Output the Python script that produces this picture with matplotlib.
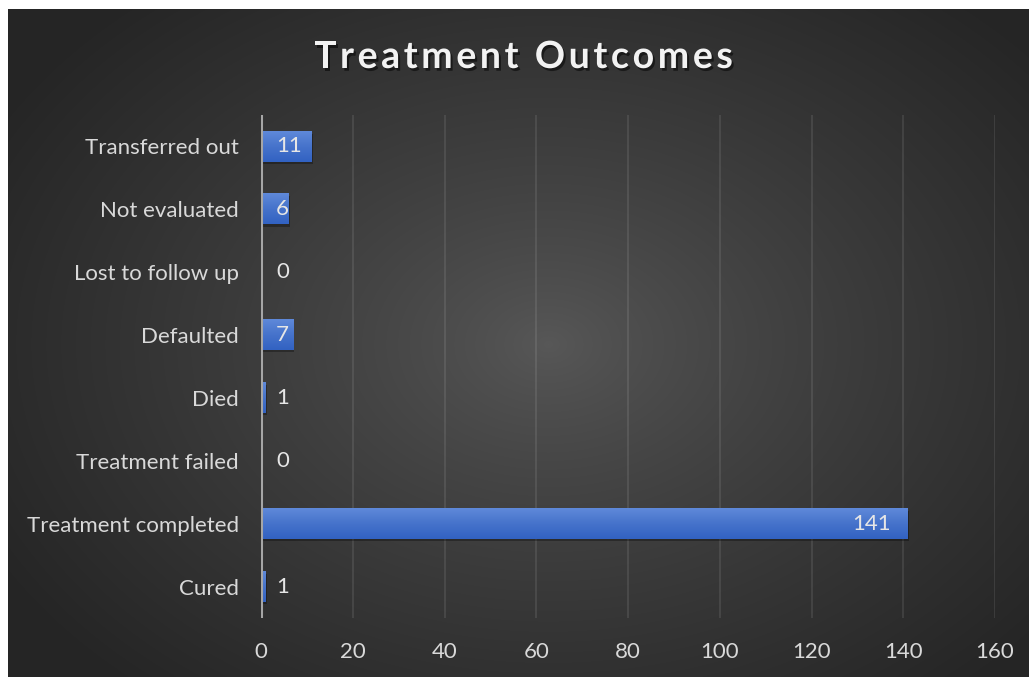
import numpy as np
import matplotlib
matplotlib.use("Agg")
import matplotlib.pyplot as plt
import matplotlib.patheffects as pe
from matplotlib.patches import Rectangle
from matplotlib.colors import LinearSegmentedColormap

categories = ["Cured", "Treatment completed", "Treatment failed", "Died",
              "Defaulted", "Lost to follow up", "Not evaluated", "Transferred out"]
values = [1, 141, 0, 1, 7, 0, 6, 11]
xticks = [0, 20, 40, 60, 80, 100, 120, 140, 160]
title = "Treatment Outcomes"

FONT = "Lato"
FS = 16
W, H = 1029, 677
fig = plt.figure(figsize=(W / 100, H / 100), dpi=100)
fig.patch.set_facecolor("white")

# background (radial gradient)
bg = fig.add_axes([8 / W, 0, (W - 8) / W, (H - 9) / H])
bg.set_axis_off()
bw, bh = W - 8, H - 9
yy, xx = np.mgrid[0:bh, 0:bw]
cx, cy = 540, 335
r = np.sqrt(((xx - cx) / 640.0) ** 2 + ((yy - cy) / 460.0) ** 2)
r = np.clip(r, 0, 1) ** 0.8
inner = np.array([0x58, 0x58, 0x58]) / 255.0
outer = np.array([0x25, 0x25, 0x25]) / 255.0
img = inner[None, None, :] * (1 - r[..., None]) + outer[None, None, :] * r[..., None]
bg.imshow(img, extent=(0, 1, 0, 1), aspect="auto", origin="upper")
bg.set_xlim(0, 1)
bg.set_ylim(0, 1)

# plot area
left, right, top, bottom = 261, 995, 115, 618
ax = fig.add_axes([left / W, 1 - bottom / H, (right - left) / W, (bottom - top) / H])
ax.patch.set_alpha(0)
ax.set_xlim(0, 160)
ax.set_ylim(-0.5, len(categories) - 0.5)

for t in xticks[1:]:
    ax.axvline(t, color="white", alpha=0.09, lw=1.5, zorder=0)

bar_h = 0.48
grad = np.linspace(0, 1, 64).reshape(-1, 1)
cmap = LinearSegmentedColormap.from_list("bar", ["#5f89da", "#4673cb", "#3262c2"])
for i, v in enumerate(values):
    if v <= 0:
        continue
    ax.add_patch(Rectangle((0, i - bar_h / 2 - 0.035), v + 0.3, bar_h, facecolor="black",
                           alpha=0.3, edgecolor="none", zorder=1))
    ax.imshow(grad, extent=(0, v, i - bar_h / 2, i + bar_h / 2), cmap=cmap,
              aspect="auto", origin="upper", zorder=2, interpolation="bilinear")
ax.set_xlim(0, 160)
ax.set_ylim(-0.5, len(categories) - 0.5)

ax.axvline(0, color="#a6a6a6", lw=2.2, zorder=3)

for s in ax.spines.values():
    s.set_visible(False)
ax.set_xticks(xticks)
ax.set_xticklabels([str(t) for t in xticks])
ax.set_yticks(range(len(categories)))
ax.set_yticklabels(categories)
ax.tick_params(axis="both", length=0, colors="#d9d9d9", labelsize=FS)
ax.tick_params(axis="x", pad=17)
ax.tick_params(axis="y", pad=16)
for lab in ax.get_xticklabels() + ax.get_yticklabels():
    lab.set_fontfamily(FONT)

# data labels
fig.canvas.draw()
renderer = fig.canvas.get_renderer()
px_per_unit = (right - left) / 160.0
for i, v in enumerate(values):
    t = ax.text(0, i, str(v), fontsize=FS, family=FONT, color="#e6e6e6",
                va="center", ha="left", zorder=5)
    tw = t.get_window_extent(renderer).width
    min_left = 15
    right_pos = v * px_per_unit - 17 - tw
    xpix = max(min_left, right_pos)
    t.set_x(xpix / px_per_unit)

# title with letter spacing
fsize = 27
target_w = 419
x_center = 523.5
y_title = 57
tmp = fig.text(0, 0, title, fontsize=fsize, family=FONT, weight="bold")
full_w = tmp.get_window_extent(renderer).width
tmp.remove()
n = len(title)
spacing = (target_w - full_w) / (n - 1)
x0 = x_center - target_w / 2
for k, ch in enumerate(title):
    if ch == " ":
        continue
    if k > 0:
        tt = fig.text(0, 0, title[:k], fontsize=fsize, family=FONT, weight="bold")
        pw = tt.get_window_extent(renderer).width
        tt.remove()
    else:
        pw = 0
    xp = x0 + pw + k * spacing
    fig.text(xp / W, 1 - y_title / H, ch, fontsize=fsize, family=FONT, weight="bold",
             color="#f2f2f2", ha="left", va="center",
             path_effects=[pe.SimplePatchShadow(offset=(1.5, -2), shadow_rgbFace="black", alpha=0.5),
                           pe.Normal()])

fig.savefig("out.png", dpi=100, facecolor=fig.get_facecolor())
